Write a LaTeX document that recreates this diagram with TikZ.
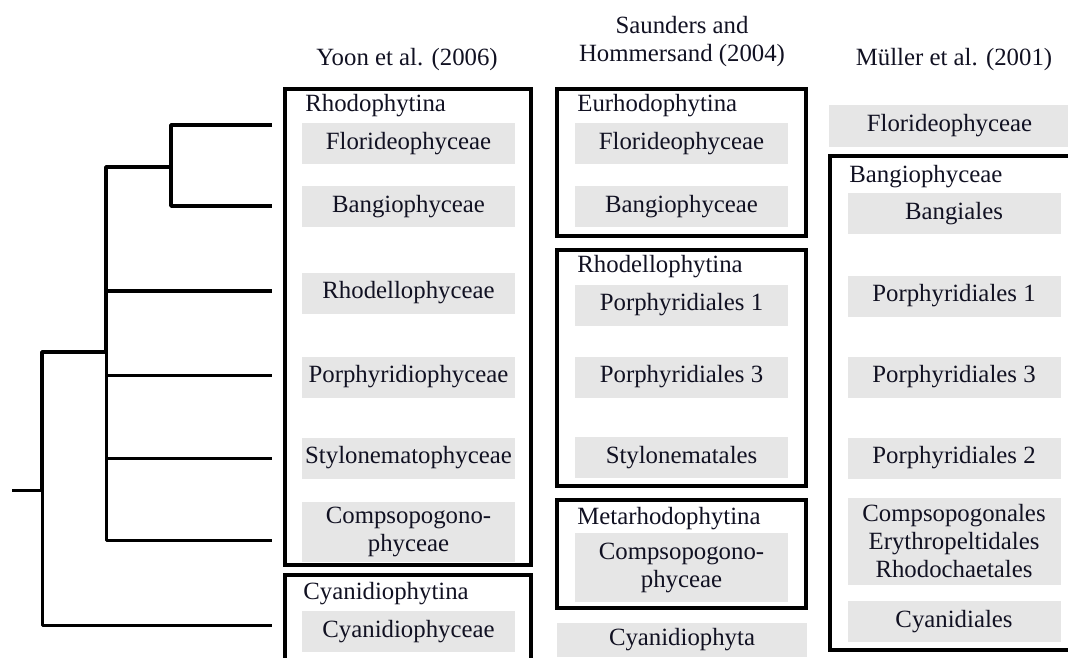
\documentclass[tikz,border=0pt]{standalone}
\usepackage{fontspec}
\setmainfont{Liberation Serif}
\definecolor{gbg}{HTML}{E6E6E6}
\definecolor{txt}{HTML}{111122}
\tikzset{
  every node/.style={font=\fontsize{12.4}{14}\selectfont, text=txt},
  gb/.style={fill=gbg, inner sep=0pt, minimum width=106.5pt, minimum height=20.5pt, align=center},
  grp/.style={draw=black, line width=1.8pt, inner sep=0pt},
  lab/.style={anchor=base west, inner sep=0pt},
  hdr/.style={align=center, inner sep=0pt},
  treethick/.style={line width=1.8pt, line join=round},
  treethin/.style={line width=1.5pt, line join=round}
}
\begin{document}
\begin{tikzpicture}[x=0.5pt, y=-0.5pt]
\useasboundingbox (0,0) rectangle (1068,657);

% headers
\node[hdr, anchor=base] (h1) at (407,66) {Yoon et al. (2006)};
\node[hdr] (h2) at (682,42) {Saunders and\\Hommersand (2004)};
\node[hdr, anchor=base] (h3) at (954,66) {Müller et al. (2001)};

% group boxes
\node[grp, minimum width=123pt, minimum height=238pt] (rhodo) at (408,327) {};
\node[grp, minimum width=123pt, minimum height=52.5pt] (cyanY) at (408,627.5) {};
\node[grp, minimum width=124.5pt, minimum height=73.5pt] (eurho) at (681.5,162.5) {};
\node[grp, minimum width=124.5pt, minimum height=118pt] (rhodel) at (681.5,368) {};
\node[grp, minimum width=124.5pt, minimum height=54pt] (meta) at (681.5,554) {};
\node[grp, minimum width=122.5pt, minimum height=247pt] (bangM) at (952.5,403) {};

% group labels
\node[lab] (lrhodo) at (305,112) {Rhodophytina};
\node[lab] (lcyanY) at (303,599) {Cyanidiophytina};
\node[lab] (leurho) at (577,112) {Eurhodophytina};
\node[lab] (lrhodel) at (577,272) {Rhodellophytina};
\node[lab] (lmeta) at (577,524) {Metarhodophytina};
\node[lab] (lbangM) at (849,183) {Bangiophyceae};

% column 1
\node[gb] (a1) at (408.5,143.5) {Florideophyceae};
\node[gb] (a2) at (408.5,206.5) {Bangiophyceae};
\node[gb] (a3) at (408.5,293) {Rhodellophyceae};
\node[gb] (a4) at (408.5,377) {Porphyridiophyceae};
\node[gb] (a5) at (408.5,458) {Stylonematophyceae};
\node[gb, minimum height=30pt] (a6) at (408.5,532) {Compsopogono-\\phyceae};
\node[gb] (a7) at (408.5,631.5) {Cyanidiophyceae};

% column 2
\node[gb] (b1) at (681.5,144) {Florideophyceae};
\node[gb] (b2) at (681.5,207) {Bangiophyceae};
\node[gb] (b3) at (681.5,305) {Porphyridiales 1};
\node[gb] (b4) at (681.5,377) {Porphyridiales 3};
\node[gb] (b5) at (681.5,457.5) {Stylonematales};
\node[gb, minimum height=34.5pt] (b6) at (681.5,567.5) {Compsopogono-\\phyceae};
\node[gb, minimum width=125pt, minimum height=17pt] (b7) at (682,640) {Cyanidiophyta};

% column 3
\node[gb, minimum width=120.5pt, minimum height=21pt] (c1) at (949.5,126) {Florideophyceae};
\node[gb] (c2) at (954,214) {Bangiales};
\node[gb] (c3) at (954,296) {Porphyridiales 1};
\node[gb] (c4) at (954,377) {Porphyridiales 3};
\node[gb] (c5) at (954,458) {Porphyridiales 2};
\node[gb, minimum height=43.5pt] (c6) at (954,541.5) {Compsopogonales\\Erythropeltidales\\Rhodochaetales};
\node[gb] (c7) at (954,621.5) {Cyanidiales};

% tree
\coordinate (root) at (12,490);
\coordinate (n1) at (42,490);
\coordinate (n2) at (106,352);
\coordinate (n3) at (171,167);
\coordinate (l1) at (272,125);
\coordinate (l2) at (272,206);
\coordinate (l3) at (272,291);
\coordinate (l4) at (272,375);
\coordinate (l5) at (272,458);
\coordinate (l6) at (272,540);
\coordinate (l7) at (272,625);

\draw[treethin] (root) -- (n1);
\draw[treethick] (n2) -| (n1);
\draw[treethin] (n1) |- (l7);
\draw[treethick] (n3) -| (n2);
\draw[treethin] (n2) |- (l6);
\draw[treethick] (l1) -| (n3) |- (l2);
\draw[treethick] (n2 |- l3) -- (l3);
\draw[treethin] (n2 |- l4) -- (l4);
\draw[treethin] (n2 |- l5) -- (l5);
\end{tikzpicture}
\end{document}
